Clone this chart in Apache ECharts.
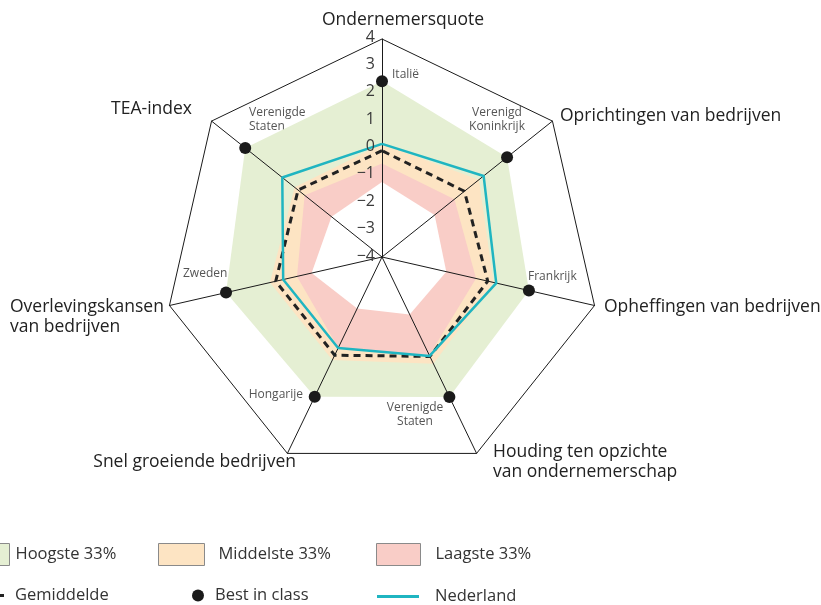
<!DOCTYPE html>
<html lang="nl">
<head>
<meta charset="UTF-8">
<title>Ondernemerschap radar</title>
<style>
    *{margin:0;padding:0;}
    #chart{width:821px;height:605px;}
</style>
</head>
<body>
<div id="chart"></div>
<script src="https://cdn.jsdelivr.net/npm/echarts@6/dist/echarts.min.js"></script>
<script>
// assen in echarts-volgorde: boven beginnen, dan tegen de klok in
var axes = ['Ondernemersquote', 'TEA-index', 'Overlevingskansen van bedrijven', 'Snel groeiende bedrijven',
    'Houding ten opzichte van ondernemerschap', 'Opheffingen van bedrijven', 'Oprichtingen van bedrijven'];
var ticks = [-4, -3, -2, -1, 0, 1, 2, 3, 4];

// best in class (buitenrand groene band)
var bestInClass = [2.45, 2.42, 1.87, 1.69, 1.70, 1.53, 1.87];
var bestCountries = ['Italië', 'Verenigde Staten', 'Zweden', 'Hongarije', 'Verenigde Staten', 'Frankrijk', 'Verenigd Koninkrijk'];
// bovengrens middelste 33%
var grensMidden = [0.15, 0.10, 0.22, 0.20, 0.35, 0.20, 0.55];
// bovengrens laagste 33%
var grensLaag = [-0.57, -0.37, -0.80, -0.30, 0.00, -0.46, -0.60];
// laagste waarde (binnenrand rode band)
var minimum = [-1.25, -1.63, -1.35, -1.90, -1.66, -1.58, -1.53];
var gemiddelde = [-0.10, -0.06, 0.00, 0.00, 0.05, -0.02, -0.13];
var nederland = [0.15, 0.68, -0.28, -0.29, 0.03, 0.30, 0.77];

var font = 'Open Sans';
var myChart = echarts.init(document.getElementById('chart'));

function band(name, values, color) {
    return {
        type: 'radar', name: name, z: 1, symbol: 'none', silent: true,
        lineStyle: {width: 0, opacity: 0},
        areaStyle: {color: color, opacity: 1},
        data: [{name: name, value: values}]
    };
}

function txt(x, y, text, size, align, color) {
    return {
        type: 'text', x: x, y: y, silent: true,
        style: {text: text, fontSize: size, fontFamily: font, fill: color,
            align: align, verticalAlign: 'middle', lineHeight: size + 2}
    };
}

function legendItem(name, left, top, w, h, icon, style, pad) {
    return {
        left: left, top: top, padding: 0, itemWidth: w, itemHeight: h, selectedMode: false,
        textStyle: {fontSize: 16.5, fontFamily: font, color: '#333', padding: [0, 0, 0, pad]},
        data: [{name: name, icon: icon, itemStyle: style}]
    };
}

var option = {
    animation: false,
    radar: {
        center: [382, 257],
        radius: 218,
        startAngle: 90,
        splitNumber: 1,
        shape: 'polygon',
        z: 3,
        indicator: axes.map(function (n) { return {name: n, min: ticks[0], max: ticks[ticks.length - 1]}; }),
        axisName: {show: false},
        axisLine: {lineStyle: {color: '#1a1a1a', width: 1}},
        splitLine: {lineStyle: {color: '#1a1a1a', width: 1}},
        splitArea: {show: false},
        axisTick: {show: false},
        axisLabel: {show: false}
    },
    // schaalverdeling langs de bovenste as
    grid: {left: 380, top: 37, width: 2, height: 219, outerBoundsMode: 'none'},
    xAxis: {type: 'value', show: false},
    yAxis: {
        type: 'value', min: ticks[0], max: ticks[ticks.length - 1], interval: 1, z: 10,
        axisLine: {show: false}, axisTick: {show: false}, splitLine: {show: false},
        axisLabel: {
            margin: 5, fontSize: 16, fontFamily: font, color: '#3a3a3a',
            formatter: function (v) { return String(v).replace('-', '\u2212'); }
        }
    },
    legend: [
        legendItem('Hoogste 33%', -35, 543, 44, 22, 'rect', {color: '#e5efd3', borderColor: '#8a8a8a', borderWidth: 1}, 1),
        legendItem('Middelste 33%', 158, 543, 46, 22, 'rect', {color: '#fde4c3', borderColor: '#8a8a8a', borderWidth: 1}, 9),
        legendItem('Laagste 33%', 376, 543, 44, 22, 'rect', {color: '#f9cdc7', borderColor: '#8a8a8a', borderWidth: 1}, 10),
        legendItem('Gemiddelde', -40, 587, 44, 3, 'path://M0,0h8v3h-8z M13,0h8v3h-8z M26,0h8v3h-8z M39,0h8v3h-8z', {color: '#222'}, 6),
        legendItem('Best in class', 192, 587, 12, 12, 'circle', {color: '#1a1a1a'}, 6),
        legendItem('Nederland', 377, 588, 42, 3, 'rect', {color: '#1fb5c1'}, 11)
    ],
    graphic: [
        txt(403, 20, 'Ondernemersquote', 17.5, 'center', '#222'),
        txt(560, 116, 'Oprichtingen van bedrijven', 17.5, 'left', '#222'),
        txt(604, 307, 'Opheffingen van bedrijven', 17.5, 'left', '#222'),
        txt(493, 462, 'Houding ten opzichte\nvan ondernemerschap', 17.5, 'left', '#222'),
        txt(296, 462, 'Snel groeiende bedrijven', 17.5, 'right', '#222'),
        txt(10, 317, 'Overlevingskansen\nvan bedrijven', 17.5, 'left', '#222'),
        txt(192, 109, 'TEA-index', 17.5, 'right', '#222'),
        // landen bij de best-in-class punten
        txt(392, 75, bestCountries[0], 12, 'left', '#555'),
        txt(249, 120, bestCountries[1].replace(' ', '\n'), 12, 'left', '#555'),
        txt(183, 274, bestCountries[2], 12, 'left', '#555'),
        txt(303, 395, bestCountries[3], 12, 'right', '#555'),
        txt(415, 415, bestCountries[4].replace(' ', '\n'), 12, 'center', '#555'),
        txt(497, 120, bestCountries[6].replace(' ', '\n'), 12, 'center', '#555'),
        txt(528, 277, bestCountries[5], 12, 'left', '#555')
    ],
    series: [
        band('Hoogste 33%', bestInClass, '#e5efd3'),
        band('Middelste 33%', grensMidden, '#fde4c3'),
        band('Laagste 33%', grensLaag, '#f9cdc7'),
        band('binnen', minimum, '#ffffff'),
        {
            type: 'radar', name: 'Gemiddelde', z: 4, symbol: 'none',
            lineStyle: {color: '#222', width: 3, type: [7, 5]},
            data: [{name: 'Gemiddelde', value: gemiddelde}]
        },
        {
            type: 'radar', name: 'Nederland', z: 5, symbol: 'none',
            lineStyle: {color: '#1fb5c1', width: 2.5},
            data: [{name: 'Nederland', value: nederland}]
        },
        {
            type: 'radar', name: 'Best in class', z: 6, symbol: 'circle', symbolSize: 12,
            itemStyle: {color: '#1a1a1a'},
            lineStyle: {width: 0, opacity: 0},
            data: [{name: 'Best in class', value: bestInClass}]
        }
    ]
};
myChart.setOption(option);
</script>
</body>
</html>
